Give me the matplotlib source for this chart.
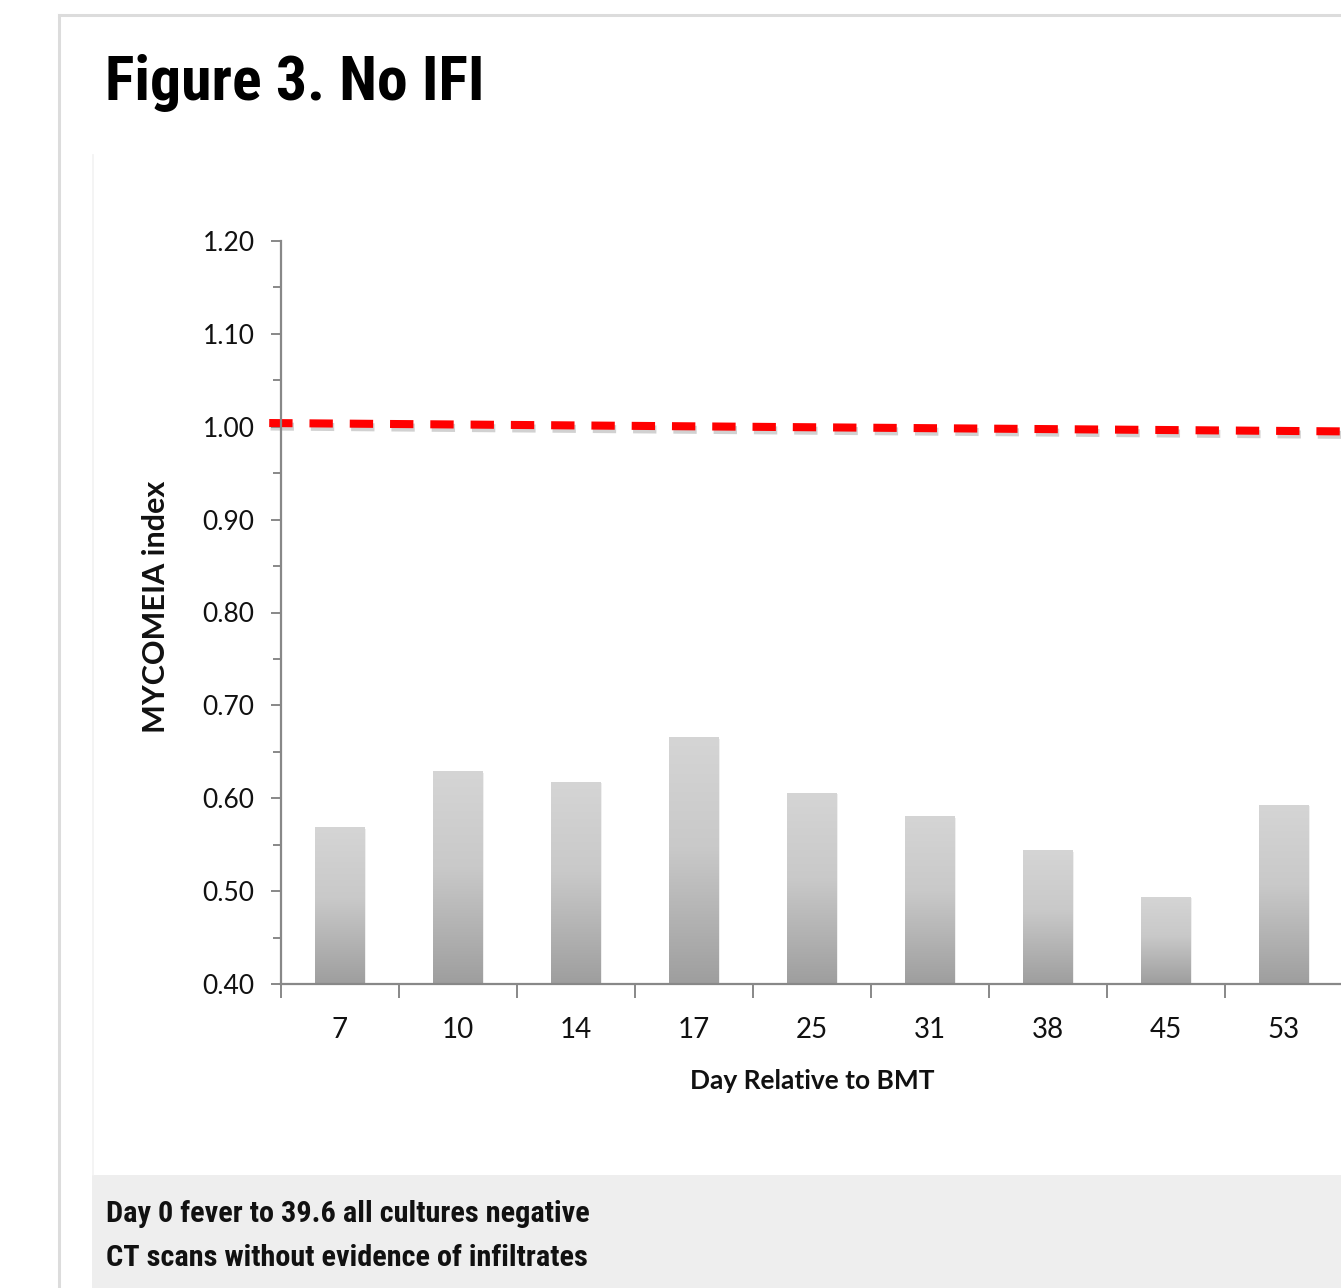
import matplotlib
matplotlib.use("Agg")
import matplotlib.pyplot as plt
import numpy as np
from matplotlib import font_manager
from matplotlib.colors import LinearSegmentedColormap
from matplotlib.lines import Line2D
from matplotlib.patches import Rectangle
import matplotlib.patheffects as pe
import matplotlib.transforms as mtransforms
from matplotlib.ticker import MultipleLocator, FixedLocator, NullFormatter, FixedFormatter

# ---- data -------------------------------------------------------------
days = ["7", "10", "14", "17", "25", "31", "38", "45", "53"]
index_values = [0.569, 0.629, 0.618, 0.666, 0.606, 0.581, 0.544, 0.494, 0.593]
cutoff_left = 1.004
cutoff_right = 0.995
y_min, y_max = 0.40, 1.20
title = "Figure 3. No IFI"
notes = ["Day 0 fever to 39.6 all cultures negative",
         "CT scans without evidence of infiltrates"]
x_label = "Day Relative to BMT"
y_label = "MYCOMEIA index"


def pick(cands):
    for c in cands:
        try:
            font_manager.findfont(font_manager.FontProperties(family=c),
                                  fallback_to_default=False)
            return c
        except ValueError:
            pass
    return "DejaVu Sans"


narrow = pick(["Liberation Sans Narrow", "Arial Narrow", "Roboto Condensed", "Liberation Sans"])
is_narrow = narrow != "Liberation Sans"
body = pick(["Lato", "Open Sans", "DejaVu Sans"])

W, H = 1341, 1288
fig = plt.figure(figsize=(W / 100, H / 100), dpi=100)
fig.patch.set_facecolor("white")

# panel frame
fig.add_artist(Line2D([58.5 / W, 58.5 / W], [0, 1 - 15 / H], color="#dcdcdc", lw=2.2,
                      transform=fig.transFigure))
fig.add_artist(Line2D([58.5 / W, 1], [1 - 15 / H, 1 - 15 / H], color="#dcdcdc", lw=2.2,
                      transform=fig.transFigure))
fig.add_artist(Line2D([93 / W, 93 / W], [1 - 1175 / H, 1 - 155 / H], color="#f2f2f2", lw=1.2,
                      transform=fig.transFigure))
# notes box
fig.add_artist(Rectangle((92 / W, 0), 1 - 92 / W, (H - 1175) / H, facecolor="#eeeeee",
                         edgecolor="none", transform=fig.transFigure, zorder=0))

# ---- chart ------------------------------------------------------------
ax = fig.add_axes([281 / W, 1 - 984 / H, (1343 - 281) / W, (984 - 241) / H])
ax.set_facecolor("white")
x = np.arange(len(days))
heights = np.array(index_values) - y_min
bars = ax.bar(x, heights, bottom=y_min, width=0.42, color="#bdbdbd", edgecolor="none",
              zorder=2,
              path_effects=[pe.SimplePatchShadow(offset=(1.2, -1.2), shadow_rgbFace="#999999",
                                                 alpha=0.15), pe.Normal()])

grad_cmap = LinearSegmentedColormap.from_list(
    "bargrad", [(0.0, "#d5d5d5"), (0.45, "#c9c9c9"), (1.0, "#9e9e9e")])
grad = np.linspace(0, 1, 256).reshape(-1, 1)
for b in bars:
    l, bt = b.get_x(), b.get_y()
    im = ax.imshow(grad, cmap=grad_cmap, vmin=0, vmax=1, aspect="auto", origin="upper",
                   extent=[l, l + b.get_width(), bt, bt + b.get_height()], zorder=3)
    im.set_clip_path(b)

# dashed cut-off line with a soft drop shadow underneath
x_lo, x_hi = -0.5, len(days) - 0.5
cut_x = [x_lo - 0.1, x_hi]
cut_y = [cutoff_left, cutoff_right]
shadow_tr = mtransforms.offset_copy(ax.transData, fig=fig, x=1.0, y=-2.5, units="points")
ax.plot(cut_x, cut_y, color="#9a9a9a", alpha=0.45, lw=5.8, dashes=(2.9, 2.1),
        dash_capstyle="butt", clip_on=False, zorder=4, transform=shadow_tr)
ax.plot(cut_x, cut_y, color="#ff0000", lw=5.8, dashes=(2.9, 2.1),
        dash_capstyle="butt", clip_on=False, zorder=4)

ax.set_xlim(x_lo, x_hi)
ax.set_ylim(y_min, y_max)

for s in ("top", "right"):
    ax.spines[s].set_visible(False)
for s in ("left", "bottom"):
    ax.spines[s].set_color("#888888")
    ax.spines[s].set_linewidth(1.6)
    ax.spines[s].set_zorder(5)

ax.yaxis.set_major_locator(MultipleLocator(0.1))
ax.yaxis.set_minor_locator(MultipleLocator(0.05))
ax.yaxis.set_major_formatter(matplotlib.ticker.FormatStrFormatter("%.2f"))
ax.tick_params(axis="y", which="major", direction="out", length=7, width=1.4, color="#888888",
               labelsize=19, pad=12, labelcolor="#111111")
ax.tick_params(axis="y", which="minor", direction="out", length=6, width=1.4, color="#888888")
for t in ax.get_yticklabels():
    t.set_family(body)

ax.xaxis.set_major_locator(FixedLocator(np.arange(x_lo, x_hi + 0.01, 1.0)))
ax.xaxis.set_major_formatter(NullFormatter())
ax.xaxis.set_minor_locator(FixedLocator(x))
ax.xaxis.set_minor_formatter(FixedFormatter(days))
ax.tick_params(axis="x", which="major", direction="out", length=10, width=1.4, color="#888888")
ax.tick_params(axis="x", which="minor", length=0, labelsize=20, pad=24, labelcolor="#111111")
for t in ax.xaxis.get_minorticklabels():
    t.set_family(body)

ax.text((812 - 281) / 1062, (984 - 1081) / 743, x_label, transform=ax.transAxes,
        ha="center", va="center", fontsize=19, fontweight="bold", family=body, color="#111111")
ax.text((156 - 281) / 1062, (984 - 607) / 743, y_label, transform=ax.transAxes,
        ha="center", va="center", rotation=90, fontsize=22, fontweight="bold", family=body,
        color="#111111")

# ---- headings -----------------------------------------------------------
fig.text(105 / W, 1 - 100 / H, title, ha="left", va="baseline",
         fontsize=44.5 if is_narrow else 38, fontweight="bold", family=narrow, color="black")
for i, line in enumerate(notes):
    fig.text(106 / W, 1 - (1222 + 44 * i) / H, line, ha="left", va="baseline",
             fontsize=21.8 if is_narrow else 18.7, fontweight="bold", family=narrow,
             color="#111111")

fig.savefig("out.png", dpi=100)
